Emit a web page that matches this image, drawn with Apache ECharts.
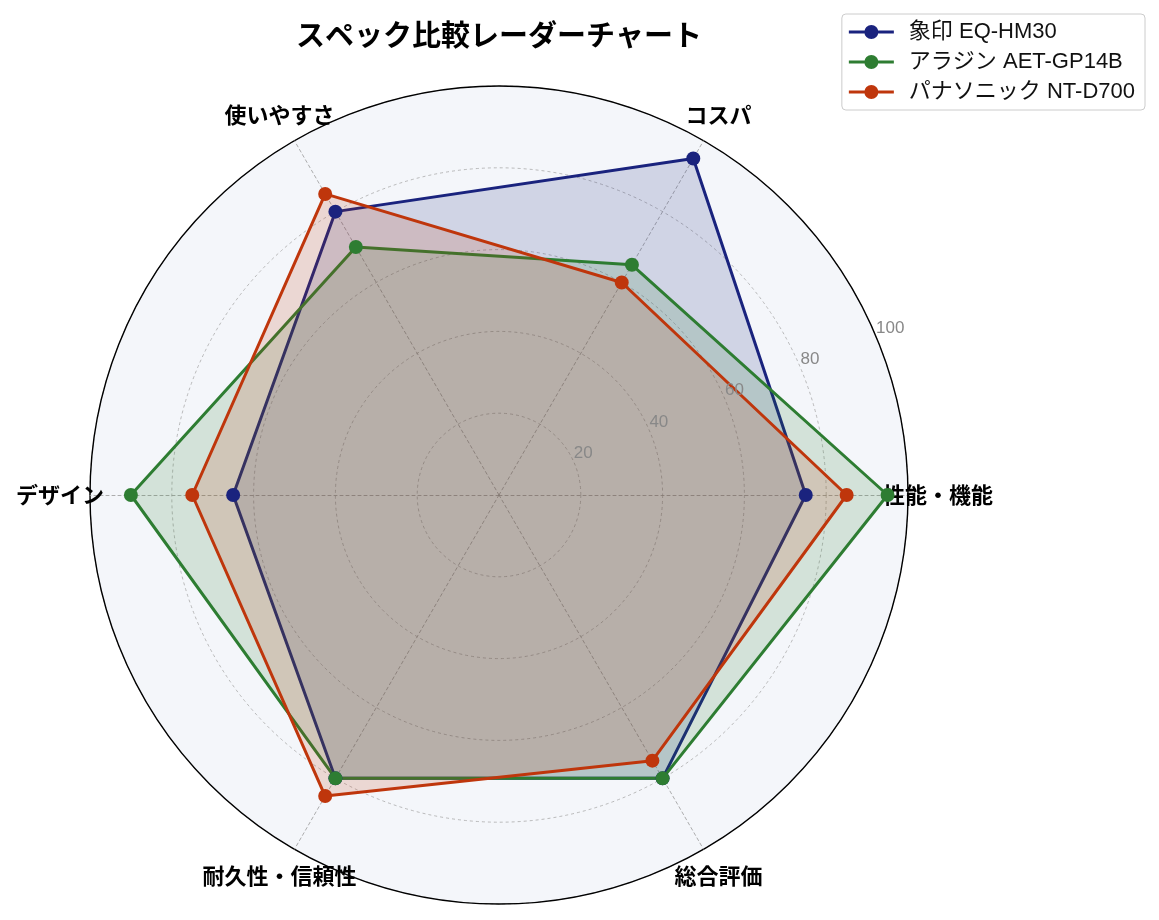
<!DOCTYPE html>
<html>
<head>
<meta charset="utf-8">
<script src="https://cdn.jsdelivr.net/npm/echarts@6/dist/echarts.min.js"></script>
<style>
  html, body { margin: 0; padding: 0; background: #fff; }
  #chart { width: 1159px; height: 920px; }
</style>
</head>
<body>
<div id="chart"></div>
<script>
// data
const categories = ['性能・機能', 'コスパ', '使いやすさ', 'デザイン', '耐久性・信頼性', '総合評価'];
const products = ['象印 EQ-HM30', 'アラジン AET-GP14B', 'パナソニック NT-D700'];
const zojirushi = [75, 95, 80, 65, 80, 80];
const aladdin = [95, 65, 70, 90, 80, 80];
const panasonic = [85, 60, 85, 75, 85, 75];
const radialTicks = [0, 20, 40, 60, 80, 100];

const colors = ['#1a237e', '#2e7d32', '#bf360c'];
const font = '"Noto Sans CJK JP", "Noto Sans", sans-serif';
const latinFont = '"Liberation Sans", "Noto Sans CJK JP", sans-serif';
const center = [499, 495];
const radius = 409;

// line with a dot in the middle, like the matplotlib legend handle
// (both sub-paths wound the same way so the overlap stays filled)
const legendIcon = 'path://M0,6.5H45V9.5H0Z M15.5,8A7,7,0,1,1,29.5,8A7,7,0,1,1,15.5,8Z';

const chart = echarts.init(document.getElementById('chart'));

const seriesValues = [zojirushi, aladdin, panasonic];

chart.setOption({
  backgroundColor: '#fff',
  textStyle: { fontFamily: font },
  title: {
    text: 'スペック比較レーダーチャート',
    left: 494,
    textAlign: 'center',
    top: 15,
    textStyle: { fontFamily: font, fontSize: 29, fontWeight: 'bold', color: '#000' }
  },
  legend: {
    right: 14,
    top: 14,
    orient: 'vertical',
    itemWidth: 45,
    itemHeight: 15,
    itemGap: 8,
    padding: [7, 10, 7, 7],
    borderColor: '#ccc',
    borderWidth: 1,
    borderRadius: 4,
    backgroundColor: '#fff',
    itemStyle: { borderWidth: 0 },
    textStyle: { fontFamily: latinFont, fontSize: 22, color: '#111', padding: [0, 0, 0, 10] },
    data: products.map(name => ({ name: name, icon: legendIcon }))
  },
  radar: {
    center: center,
    radius: radius,
    startAngle: 0,
    shape: 'circle',
    splitNumber: 5,
    nameGap: 30,
    indicator: categories.map(name => ({ name: name, min: 0, max: 100 })),
    axisName: {
      color: '#000',
      fontSize: 22,
      fontWeight: 'bold',
      fontFamily: font,
      align: 'center',
      verticalAlign: 'middle'
    },
    axisLine: { lineStyle: { color: '#999', type: [3, 3], width: 0.8 } },
    splitLine: { lineStyle: { color: '#aaa', type: [3, 3], width: 0.8 } },
    splitArea: { areaStyle: { color: ['#f4f6fa'] } }
  },
  // second system only for the outer ring and the radial tick labels at 22.5deg
  polar: { center: center, radius: radius },
  angleAxis: {
    type: 'value',
    min: 0,
    max: 360,
    startAngle: 22.5,
    axisLine: { show: true, lineStyle: { color: '#000', width: 1.4 } },
    axisTick: { show: false },
    axisLabel: { show: false },
    splitLine: { show: false }
  },
  radiusAxis: {
    type: 'value',
    min: radialTicks[0],
    max: radialTicks[radialTicks.length - 1],
    interval: 20,
    axisLine: { show: false },
    axisTick: { show: false },
    splitLine: { show: false },
    axisLabel: {
      color: '#888',
      fontSize: 17,
      fontFamily: latinFont,
      margin: 2,
      align: 'left',
      verticalAlign: 'bottom',
      formatter: v => (v === 0 ? '' : String(v))
    },
    z: 10
  },
  series: products.map((name, i) => ({
    name: name,
    type: 'radar',
    symbol: 'circle',
    symbolSize: 14,
    lineStyle: { width: 3, color: colors[i] },
    itemStyle: { color: colors[i] },
    areaStyle: { color: colors[i], opacity: 0.16 },
    data: [{ name: name, value: seriesValues[i] }]
  }))
});
</script>
</body>
</html>
